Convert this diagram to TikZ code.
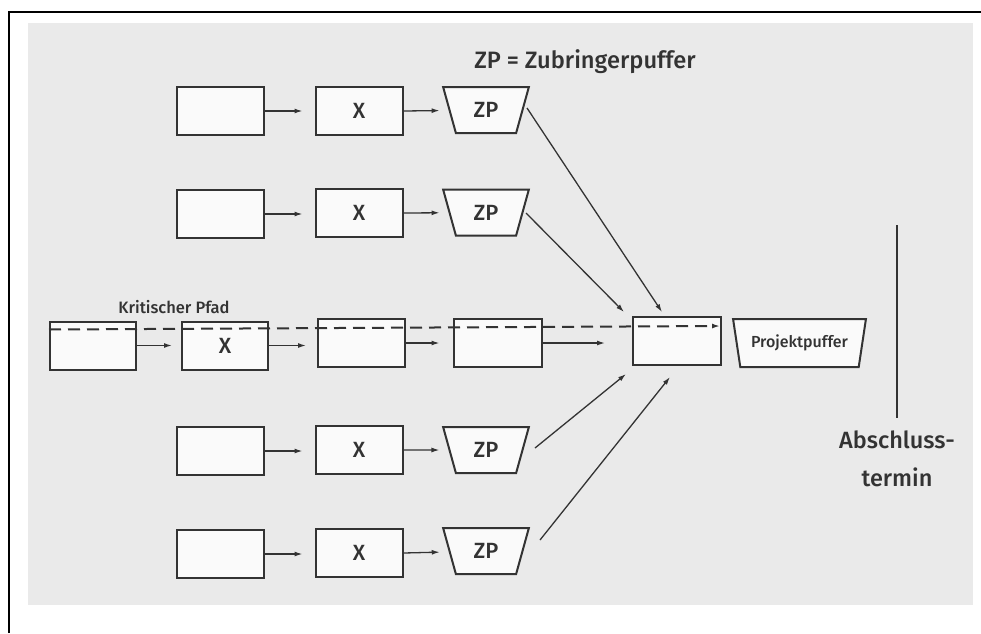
\documentclass[tikz,border=0pt]{standalone}
\usepackage{fontspec}
\setmainfont{Fira Sans Medium}
\usetikzlibrary{shapes.geometric,arrows.meta,calc}
\definecolor{bg}{HTML}{EAEAEA}
\definecolor{ink}{HTML}{333333}
\definecolor{boxfill}{HTML}{FAFAFA}
\begin{document}
\begin{tikzpicture}[x=1pt,y=-1pt,
  task/.style={draw=ink,line width=2pt,fill=boxfill,minimum width=87pt,minimum height=48pt,inner sep=0pt,text=ink,font=\fontsize{22}{22}\selectfont},
  buf/.style={trapezium,shape border rotate=180,trapezium stretches=true,draw=ink,line width=2pt,fill=boxfill,minimum width=86pt,minimum height=46pt,trapezium left angle=71,trapezium right angle=71,inner sep=0pt,text=ink,font=\fontsize{22}{22}\selectfont},
  arr/.style={-{Latex[length=8pt,width=5pt]},draw=ink,line width=1.3pt},
  lbl/.style={text=ink,inner sep=0pt}
]
\useasboundingbox (0,0) rectangle (981,633);
\fill[white] (0,0) rectangle (981,633);
\fill[bg] (28,23) rectangle (973,605);
\draw[black,line width=2pt] (9,633) -- (9,12) -- (981,12);

% feeder rows
\node[task] (a1) at (220.5,111) {};
\node[task] (x1) at (359,111) {X};
\node[buf]  (z1) at (486,110) {ZP};
\node[task] (a2) at (220.5,214) {};
\node[task] (x2) at (359,213) {X};
\node[buf]  (z2) at (486,212.5) {ZP};
\node[task] (a4) at (220.5,451) {};
\node[task] (x4) at (359,450) {X};
\node[buf]  (z4) at (486,450) {ZP};
\node[task] (a5) at (220.5,554) {};
\node[task] (x5) at (359,553) {X};
\node[buf]  (z5) at (486,551) {ZP};

% critical path
\node[task,minimum width=86pt] (c1) at (93,345.5) {};
\node[task,minimum width=86pt] (c2) at (225,345.5) {X};
\node[task] (c3) at (361.5,343) {};
\node[task,minimum width=88pt] (c4) at (497.5,343) {};
\node[task,minimum width=88pt] (fin) at (677,341) {};
\node[buf,minimum width=133pt,minimum height=48pt,trapezium left angle=70,trapezium right angle=70,font=\fontsize{16}{16}\selectfont] (pp) at (799.5,343) {Projektpuffer};

% labels
\node[lbl,font=\fontsize{23.7}{23.7}\selectfont] (title) at (585,62) {ZP = Zubringerpuffer};
\node[lbl,font=\fontsize{16.5}{16.5}\selectfont] (krit) at (174,307) {Kritischer Pfad};
\node[lbl,align=center,font=\fontsize{23.5}{38}\selectfont] (abs) at (897,459) {Abschluss-\\termin};

% row arrows
\foreach \r in {1,2,4,5}{
  \draw[arr,shorten >=12pt] (a\r.east) -- (a\r.east -| x\r.west);
  \draw[arr,shorten >=9pt] (x\r.east) -- (z\r);
}
\draw[arr,shorten >=9pt] (c1.east) -- (c1.east -| c2.west);
\draw[arr,shorten >=11pt] (c2.east) -- (c2.east -| c3.west);
\draw[arr,shorten >=13pt] (c3.east) -- (c3.east -| c4.west);
\coordinate (c4end) at (605,343);
\draw[arr] (c4.east) -- (c4end);

% dashed critical path line
\coordinate (ds) at ($(c1.north west)+(0,9)$);
\coordinate (de) at ($(fin.north east)+(-2,10)$);
\draw[ink,line width=2pt,dash pattern=on 12pt off 7pt,-{Latex[length=8pt,width=5pt]}] (ds) -- (de);

% feeder arrows to merge task
\draw[arr] ($(z1)+(41,-2)$) -- ($(fin.north)+(-15,-4)$);
\draw[arr] ($(z2)+(40,0.5)$) -- ($(fin.north west)+(-8,-4)$);
\draw[arr] ($(z4)+(49,-2)$) -- ($(fin.south west)+(-6,8)$);
\draw[arr] ($(z5)+(54,-11)$) -- ($(fin.south)+(-7,11)$);

% deadline line
\coordinate (vt) at (897,225);
\coordinate (vb) at (897,418);
\draw[ink,line width=1.8pt] (vt) -- (vb);
\end{tikzpicture}
\end{document}
